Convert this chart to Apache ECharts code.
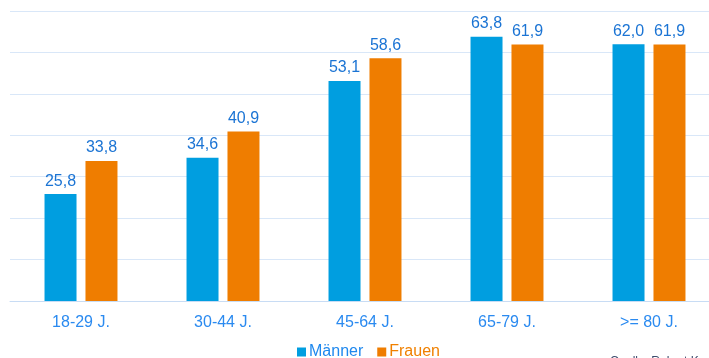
<!DOCTYPE html>
<html>
<head>
<meta charset="utf-8">
<script src="https://cdn.jsdelivr.net/npm/echarts@6/dist/echarts.min.js"></script>
<style>
  html, body { margin: 0; padding: 0; background: #fff; }
  #chart { width: 709px; height: 358px; }
</style>
</head>
<body>
<div id="chart"></div>
<script>
// Altersgruppen
const categories = ['18-29 J.', '30-44 J.', '45-64 J.', '65-79 J.', '>= 80 J.']
const maenner = [25.8, 34.6, 53.1, 63.8, 62.0]
const frauen = [33.8, 40.9, 58.6, 61.9, 61.9]

const blue = '#009ee0'
const orange = '#ef7d00'

const fmt = p => p.value.toFixed(1).replace('.', ',')

const chart = echarts.init(document.getElementById('chart'))
chart.setOption({
  animation: false,
  grid: { left: 10, top: 11, right: -11, height: 290, outerBoundsMode: 'none', containLabel: false },
  legend: {
    left: 292,
    top: 339,
    itemWidth: 9,
    itemHeight: 9,
    itemGap: 14,
    icon: 'rect',
    textStyle: { fontFamily: 'Liberation Sans', fontSize: 16, padding: [0, 0, 0, -2] },
    data: [
      { name: 'Männer', textStyle: { color: '#1e88ee' } },
      { name: 'Frauen', textStyle: { color: '#f08000' } }
    ]
  },
  xAxis: {
    type: 'category',
    data: categories,
    axisLine: { lineStyle: { color: '#c8dcf4' } },
    axisTick: { show: false },
    axisLabel: { color: '#2a8af0', fontFamily: 'Liberation Sans', fontSize: 16, margin: 14 }
  },
  yAxis: {
    type: 'value',
    min: 0,
    max: 70,
    interval: 10,
    axisLabel: { show: false },
    axisLine: { show: false },
    axisTick: { show: false },
    splitLine: { lineStyle: { color: '#d9e7f8' } }
  },
  series: [
    {
      name: 'Männer',
      type: 'bar',
      data: maenner,
      barWidth: 32,
      barGap: '28%',
      itemStyle: { color: blue },
      label: { show: true, position: 'top', distance: 5, formatter: fmt,
        color: '#1b74d4', fontFamily: 'Liberation Sans', fontSize: 16 }
    },
    {
      name: 'Frauen',
      type: 'bar',
      data: frauen,
      barWidth: 32,
      itemStyle: { color: orange },
      label: { show: true, position: 'top', distance: 5, formatter: fmt,
        color: '#1b74d4', fontFamily: 'Liberation Sans', fontSize: 16 }
    }
  ],
  graphic: [
    { type: 'text', left: 610, top: 356,
      style: { text: 'Quelle: Robert Koch-Institut', fill: '#3b4a6b', font: '12px Liberation Sans' } }
  ]
})
</script>
</body>
</html>
